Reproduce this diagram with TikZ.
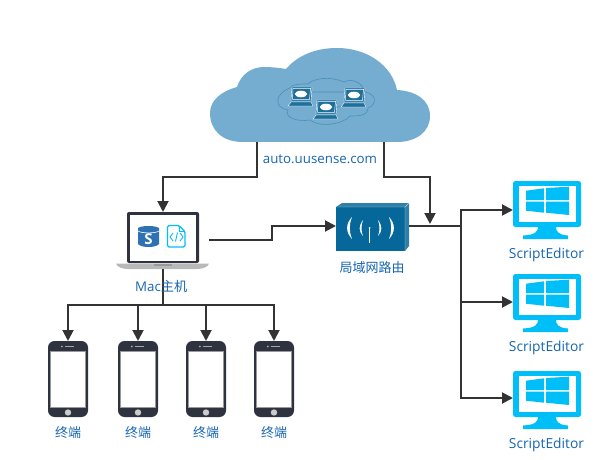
\documentclass[tikz,border=0pt]{standalone}
\usepackage{fontspec}
\setmainfont{Open Sans}
\newfontfamily\cjkfont{Noto Sans CJK SC}
\usetikzlibrary{arrows.meta}
\definecolor{cloudblue}{HTML}{74ADCF}
\definecolor{cloudline}{HTML}{4A8FB8}
\definecolor{pcblue}{HTML}{1F6F9C}
\definecolor{linkgray}{HTML}{333333}
\definecolor{labelblue}{HTML}{1565B0}
\definecolor{cyanblue}{HTML}{00BEF8}
\definecolor{devdark}{HTML}{2F3340}
\definecolor{routerfront}{HTML}{05679A}
\definecolor{routerside}{HTML}{2F7FA8}
\definecolor{dbblue}{HTML}{2F72B4}
\tikzset{
  anchorbox/.style={inner sep=0pt,outer sep=0pt,minimum width=#1},
  link/.style={draw=linkgray,line width=1.9pt,line join=miter},
  arrowlink/.style={link,-{Triangle[length=11pt,width=11pt]}},
  lbl/.style={text=labelblue,font=\fontsize{13.3}{15}\selectfont,inner sep=0pt},
  cjklbl/.style={text=labelblue,font=\fontsize{13}{14}\cjkfont,inner sep=0pt},
  pcpic/.pic={
    \fill[pcblue,draw=white,line width=.4pt] (-9,-9) -- (11,-9) -- (10,5) -- (-10,5) -- cycle;
    \fill[white] (0,-2) ellipse (6.2 and 3.3);
    \fill[pcblue,draw=white,line width=.4pt] (-10,6) -- (10,6) -- (12,10) -- (-13,10) -- cycle;
    \draw[white,line width=.5pt] (-8,-7.5) -- (9.5,-7.5) -- (8.5,3.5) -- (-8.5,3.5) -- cycle;
  },
  phonepic/.pic={
    \fill[devdark,rounded corners=6.5pt] (-20,-38) rectangle (20,38);
    \fill[white,draw=gray!80,line width=.8pt] (-17.5,-27.5) rectangle (17.5,28);
    \fill[gray!40!white] (0,33.5) circle (3.2);
    \fill[gray!70] (-6.2,-32.5) circle (1);
    \draw[gray!70,line width=.7pt] (-3,-32.5) -- (6,-32.5);
  },
  monitorpic/.pic={
    \fill[cyanblue,rounded corners=2.5pt] (-34,-23) rectangle (34,23);
    \fill[white] (-28,-18) rectangle (29,18);
    \fill[cyanblue] (-9,23) .. controls (-9,27) and (-11,31) .. (-24,31.5) -- (-24,35) -- (21,35) -- (21,31.5) .. controls (11,31) and (9,27) .. (9,23) -- cycle;
    \fill[cyanblue] (-21,-13.3) -- (-3,-15.7) -- (-3,-4) -- (-21,-4) -- cycle;
    \fill[cyanblue] (-1,-16) -- (22,-17.3) -- (22,-4) -- (-1,-4) -- cycle;
    \fill[cyanblue] (-21,-2.3) -- (-3,-2.3) -- (-3,8.7) -- (-21,6.7) -- cycle;
    \fill[cyanblue] (-1,-2.3) -- (22,-2.3) -- (22,11) -- (-1,8.7) -- cycle;
  },
}
\begin{document}
\begin{tikzpicture}[x=1pt,y=-1pt]
\useasboundingbox (0,0) rectangle (614,460);
% cloud
\fill[cloudblue] (243,142) .. controls (222,142) and (210,130) .. (210,113)
  .. controls (210,100) and (222,91) .. (237,87)
  .. controls (241,74) and (252,67) .. (264,67)
  .. controls (272,67) and (280,68) .. (286,69)
  .. controls (298,55) and (316,48) .. (337,48)
  .. controls (368,48) and (392,66) .. (397,90)
  .. controls (416,91) and (430,100) .. (430,116)
  .. controls (430,132) and (416,142) .. (397,142) -- cycle;
\node[anchorbox=220pt,minimum height=94pt] (cloud) at (320,95) {};
% inner cloud
\draw[cloudline,line width=.6pt] (290,88)
  .. controls (292,84) and (300,84) .. (308,84)
  .. controls (314,78) and (330,76) .. (344,82)
  .. controls (352,78) and (362,82) .. (365,92)
  .. controls (376,94) and (378,104) .. (368,108)
  .. controls (368,116) and (358,116) .. (350,116)
  .. controls (344,124) and (320,128) .. (310,120)
  .. controls (298,122) and (284,118) .. (288,110)
  .. controls (274,108) and (274,94) .. (290,88) -- cycle;
\draw[cloudline,line width=.6pt] (310,92) -- (345,92) (335,108) -- (345,105);
\pic at (301,96) {pcpic};
\pic at (354,97) {pcpic};
\pic at (326,109) {pcpic};
\node[lbl] (cloudlabel) at (320,159) {auto.uusense.com};
% laptop
\node[anchorbox=72pt,minimum height=51pt] (laptop) at (163,237.5) {};
\fill[devdark,rounded corners=2pt] (127,212) rectangle (199,263);
\fill[white] (130,215) rectangle (196,261);
\fill[gray!55!white] (116,263.5) -- (209,263.5) .. controls (208,267) and (203,269) .. (197,269) -- (128,269) .. controls (122,269) and (117,267) .. (116,263.5) -- cycle;
\fill[gray!80] (154,264) rectangle (172,265.5);
\fill[devdark] (163,213.5) circle (.7);
% db icon
\fill[dbblue] (138,228.5) -- (159,228.5) -- (159,244) .. controls (156,248) and (141,248) .. (138,244) -- cycle;
\fill[dbblue] (148.5,228.5) ellipse (10.5 and 2.5);
\draw[white,line width=.6pt] (138,231) .. controls (141,233.5) and (156,233.5) .. (159,231);
\node[text=white,inner sep=0pt,font=\fontsize{15}{15}\bfseries\selectfont] (dbs) at (148.5,239) {S};
% file icon
\draw[cyanblue,line width=1.3pt,rounded corners=1.5pt] (167.5,225.5) -- (179,225.5) -- (185,231.5) -- (185,247) -- (167.5,247) -- cycle;
\draw[cyanblue,line width=.9pt] (173,233) -- (170,237) -- (173,241) (180,233) -- (183,237) -- (180,241) (177.5,232.5) -- (175.5,241.5);
\draw[cyanblue,line width=1pt] (179,226) -- (179,231.5) -- (185,231.5);
% router
\node[anchorbox=69pt,minimum height=44pt] (router) at (370.5,229) {};
\fill[routerside] (336,207) -- (342,203) -- (409,203) -- (405,207) -- cycle;
\fill[routerside] (405,207) -- (409,203) -- (409,246) -- (405,251) -- cycle;
\fill[routerfront] (336,207) rectangle (405,251);
\draw[white!70!routerfront,line width=.4pt] (336,207) -- (405,207) -- (405,251) (405,207) -- (409,203);
\fill[white] (352,217) .. controls (345.5,224) and (345.5,232) .. (352,239) .. controls (349,232) and (349,224) .. (352,217) -- cycle;
\fill[white] (363,220) .. controls (358.5,226) and (358.5,231) .. (363,236) .. controls (361,231) and (361,226) .. (363,220) -- cycle;
\fill[white] (378,220) .. controls (382.5,226) and (382.5,231) .. (378,236) .. controls (380,231) and (380,226) .. (378,220) -- cycle;
\fill[white] (389,217) .. controls (395.5,224) and (395.5,232) .. (389,239) .. controls (392,232) and (392,224) .. (389,217) -- cycle;
\draw[white,line width=.4pt] (369.5,228) -- (369.5,243);
\fill[white] (369.5,228) circle (1);
\node[cjklbl] (routerlabel) at (372,267.5) {局域网路由};
% monitors
\node[anchorbox=68pt,minimum height=46pt] (mona) at (547,204) {};
\node[anchorbox=68pt,minimum height=46pt] (monb) at (547,297) {};
\node[anchorbox=68pt,minimum height=46pt] (monc) at (547,394) {};
\pic at (547,204) {monitorpic};
\pic at (547,297) {monitorpic};
\pic at (547,394) {monitorpic};
\node[lbl,font=\fontsize{13.8}{15}\selectfont] (laba) at (546.5,255) {ScriptEditor};
\node[lbl,font=\fontsize{13.8}{15}\selectfont] (labb) at (546.5,348) {ScriptEditor};
\node[lbl,font=\fontsize{13.8}{15}\selectfont] (labc) at (546.5,445) {ScriptEditor};
% phones
\foreach \n/\x in {a/68,b/138,c/206,d/274}{
  \node[anchorbox=40pt,minimum height=76pt] (phone\n) at (\x,379) {};
  \pic at (\x,379) {phonepic};
  \node[cjklbl] (term\n) at (\x,433) {终端};
}
% junctions
\coordinate (cl) at (257,142);
\coordinate (cr) at (384,142);
\coordinate (hub) at (461,226);
\coordinate (bus) at (163,305);
\coordinate (lapout) at (209,240);
\coordinate (lapbase) at (163,269);
\coordinate (routerout) at (409,226);
\coordinate (busa) at (67,305);
\coordinate (busd) at (275,305);
% connectors
\draw[arrowlink] (cl) -- (257,177) -- (163,177) -- (laptop.north);
\draw[arrowlink] (cr) -- (384,177) -- (430,177) -- (430,224);
\draw[arrowlink] (lapout) -- (272,240) -- (272,226) -- (router.west |- 0,226);
\draw[link] (routerout) -- (hub);
\draw[arrowlink] (461,226) -- (461,210) -- (mona.west |- 0,210);
\draw[arrowlink] (461,226) -- (461,302) -- (monb.west |- 0,302);
\draw[arrowlink] (461,302) -- (461,398) -- (monc.west |- 0,398);
\draw[link] (lapbase) -- (bus);
\draw[link] (busa) -- (busd);
\foreach \n in {a,b,c,d}{
  \draw[arrowlink] (phone\n.north |- bus) -- (phone\n.north);
}
\node[lbl,anchor=west] (maclabel) at (135,286) {Mac\cjkfont 主机};
\end{tikzpicture}
\end{document}
